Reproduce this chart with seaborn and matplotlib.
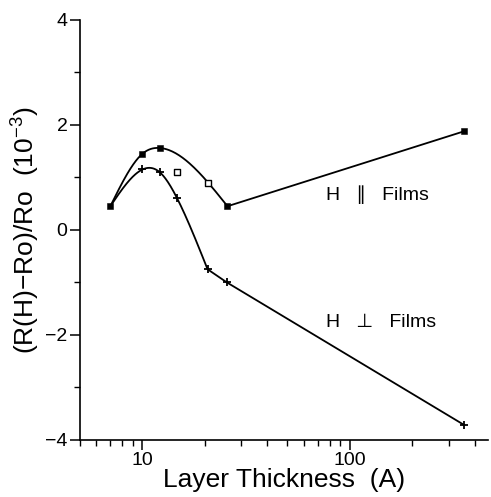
import numpy as np
import pandas as pd
import matplotlib
matplotlib.use("Agg")
import matplotlib.pyplot as plt
import seaborn as sns
from matplotlib.ticker import LogLocator, FixedLocator, NullFormatter

# ---- data ----
par_x = [7.0, 10.0, 12.1, 25.7, 357.0]
par_y = [0.45, 1.45, 1.56, 0.45, 1.88]
par_open_x = [14.7, 20.6]
par_open_y = [1.10, 0.90]
perp_x = [7.0, 10.0, 12.1, 14.7, 20.6, 25.5, 357.0]
perp_y = [0.45, 1.15, 1.10, 0.60, -0.75, -1.00, -3.72]
y_ticks = [-4, -2, 0, 2, 4]
x_tick_labels = ["10", "100"]


def smooth_curve(xs, ys, n_curve, n=60):
    """Natural cubic spline (in log10 x) through the first `n_curve` points,
    straight segments through the remaining ones."""
    lx = np.log10(np.asarray(xs, float))
    y = np.asarray(ys, float)
    px, py = lx[:n_curve], y[:n_curve]
    h = np.diff(px)
    N = len(px)
    A = np.zeros((N, N))
    b = np.zeros(N)
    A[0, 0] = A[-1, -1] = 1.0
    for i in range(1, N - 1):
        A[i, i - 1] = h[i - 1]
        A[i, i] = 2 * (h[i - 1] + h[i])
        A[i, i + 1] = h[i]
        b[i] = 6 * ((py[i + 1] - py[i]) / h[i] - (py[i] - py[i - 1]) / h[i - 1])
    M = np.linalg.solve(A, b)
    xo, yo = [], []
    for k in range(N - 1):
        t = np.linspace(px[k], px[k + 1], n)
        a = px[k + 1] - t
        c = t - px[k]
        yy = (M[k] * a**3 + M[k + 1] * c**3) / (6 * h[k]) \
            + (py[k] / h[k] - M[k] * h[k] / 6) * a \
            + (py[k + 1] / h[k] - M[k + 1] * h[k] / 6) * c
        xo.append(10 ** t)
        yo.append(yy)
    for k in range(n_curve - 1, len(lx) - 1):
        s = np.linspace(0, 1, n)
        xo.append(10 ** (lx[k] + s * (lx[k + 1] - lx[k])))
        yo.append(y[k] + s * (y[k + 1] - y[k]))
    return np.concatenate(xo), np.concatenate(yo)


sns.set_theme(style="white")
plt.rcParams["font.family"] = ["Liberation Sans", "DejaVu Sans"]
plt.rcParams["mathtext.fontset"] = "custom"
plt.rcParams["mathtext.rm"] = "Liberation Sans"
plt.rcParams["mathtext.it"] = "Liberation Sans"

fig = plt.figure(figsize=(4.91, 4.97), dpi=100)
ax = fig.add_axes([0.163, 0.115, 0.831, 0.845])

cx1, cy1 = smooth_curve(par_x, par_y, n_curve=4)
cx2, cy2 = smooth_curve(perp_x, perp_y, n_curve=5)
df1 = pd.DataFrame({"x": cx1, "y": cy1})
df2 = pd.DataFrame({"x": cx2, "y": cy2})
sns.lineplot(data=df1, x="x", y="y", ax=ax, color="black", lw=1.3, sort=False, estimator=None)
sns.lineplot(data=df2, x="x", y="y", ax=ax, color="black", lw=1.3, sort=False, estimator=None)

sns.scatterplot(x=par_x, y=par_y, ax=ax, marker="s", s=22, color="black", edgecolor="black", zorder=5)
sns.scatterplot(x=par_open_x, y=par_open_y, ax=ax, marker="s", s=22, facecolor="white",
                edgecolor="black", linewidth=1.0, zorder=5)
sns.scatterplot(x=perp_x[1:], y=perp_y[1:], ax=ax, marker="+", s=40, color="black",
                linewidth=1.3, zorder=5)

ax.set_xscale("log")
ax.set_xlim(5, 464)
ax.set_ylim(-4, 4)

ax.xaxis.set_major_locator(FixedLocator([10, 100]))
ax.set_xticklabels(x_tick_labels)
ax.xaxis.set_minor_locator(LogLocator(base=10, subs=np.arange(2, 10)))
ax.xaxis.set_minor_formatter(NullFormatter())
ax.set_yticks(y_ticks)
ax.set_yticklabels(["\u22124", "\u22122", "0", "2", "4"])
ax.yaxis.set_minor_locator(FixedLocator([-3, -1, 1, 3]))

for s in ["top", "right"]:
    ax.spines[s].set_visible(False)
for s in ["left", "bottom"]:
    ax.spines[s].set_color("black")
    ax.spines[s].set_linewidth(1.2)

ax.tick_params(axis="both", which="major", direction="out", length=7, width=1.1,
               color="black", labelsize=14, labelcolor="black", pad=2,
               left=True, bottom=True)
ax.tick_params(axis="both", which="minor", direction="out", length=4, width=1.0,
               color="black", left=True, bottom=True)

ax.set_xlabel("Layer Thickness  (A)", fontsize=19, color="black", labelpad=-1)
ax.set_ylabel(r"(R(H)$-$Ro)/Ro  (10$^{-3}$)", fontsize=19, color="black", labelpad=2)

ax.text(77, 0.67, "H   \u2225   Films", fontsize=14, color="black", va="center", ha="left")
ax.text(77, -1.77, "H   \u22a5   Films", fontsize=14, color="black", va="center", ha="left")

fig.savefig("out.png", dpi=100)
